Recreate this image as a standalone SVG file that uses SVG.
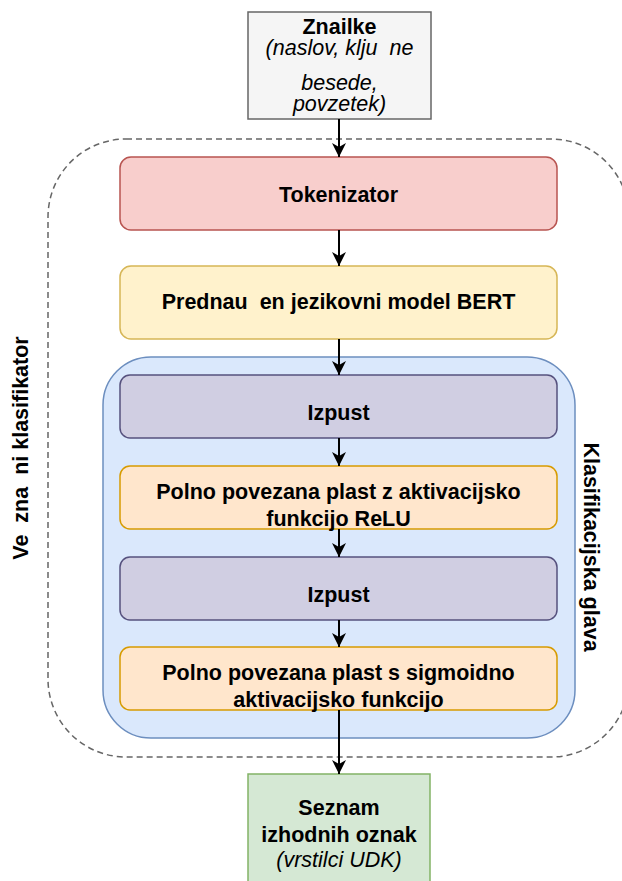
<svg xmlns="http://www.w3.org/2000/svg" width="622" height="881" viewBox="0 0 622 881">
  <defs>
    <marker id="arrow" markerUnits="userSpaceOnUse" markerWidth="16" markerHeight="16" viewBox="-1 -8 16 16" refX="14" refY="0" orient="auto">
      <path d="M0,-7 L14,0 L0,7 L4,0 Z" fill="#000000"/>
    </marker>
    <style>
      text { font-family: "Liberation Sans", Arial, Helvetica, sans-serif; font-size: 21.5px; fill: #000000; white-space: pre; }
      .b { font-weight: bold; }
      .i { font-style: italic; }
      .mid { text-anchor: middle; }
      .box { stroke-width: 1.5; }
      .gray { fill: #f5f5f5; stroke: #666666; }
      .red { fill: #f8cecc; stroke: #b85450; }
      .yellow { fill: #fff2cc; stroke: #d6b656; }
      .blue { fill: #dae8fc; stroke: #6c8ebf; }
      .purple { fill: #d0cee2; stroke: #56517e; }
      .orange { fill: #ffe6cc; stroke: #d79b00; }
      .green { fill: #d5e8d4; stroke: #82b366; }
      .edge { stroke: #000000; stroke-width: 2; fill: none; marker-end: url(#arrow); }
    </style>
  </defs>

  <!-- outer dashed container: multi-label classifier -->
  <g id="classifier">
    <rect x="48" y="139" width="581" height="618" rx="78" ry="78" fill="none" stroke="#666666" stroke-width="1.5" stroke-dasharray="6 4"/>
    <text class="b mid" transform="translate(28,448) rotate(-90)">Ve  zna  ni klasifikator</text>
  </g>

  <!-- classification head container -->
  <g id="head">
    <rect class="box blue" x="103" y="357" width="472" height="381" rx="48" ry="48"/>
    <text class="b mid" transform="translate(584,547) rotate(90)">Klasifikacijska glava</text>
  </g>

  <g id="input">
    <rect class="box gray" x="248" y="12" width="183" height="107"/>
    <text class="b mid" x="339.5" y="34">Znailke</text>
    <text class="i mid" x="339.5" y="55">(naslov, klju  ne</text>
    <text class="i mid" x="339.5" y="90">besede,</text>
    <text class="i mid" x="339.5" y="111">povzetek)</text>
  </g>

  <g id="tokenizer">
    <rect class="box red" x="120" y="157" width="437" height="73" rx="11" ry="11"/>
    <text class="b mid" x="338.5" y="202">Tokenizator</text>
  </g>

  <g id="bert">
    <rect class="box yellow" x="120" y="266" width="437" height="73" rx="11" ry="11"/>
    <text class="b mid" x="338.5" y="309">Prednau  en jezikovni model BERT</text>
  </g>

  <g id="dropout1">
    <rect class="box purple" x="120" y="375" width="437" height="63" rx="10" ry="10"/>
    <text class="b mid" x="338.5" y="420">Izpust</text>
  </g>

  <g id="dense-relu">
    <rect class="box orange" x="120" y="466" width="437" height="63" rx="10" ry="10"/>
    <text class="b mid" x="338.5" y="499">Polno povezana plast z aktivacijsko</text>
    <text class="b mid" x="338.5" y="526">funkcijo ReLU</text>
  </g>

  <g id="dropout2">
    <rect class="box purple" x="120" y="557" width="437" height="63" rx="10" ry="10"/>
    <text class="b mid" x="338.5" y="602">Izpust</text>
  </g>

  <g id="dense-sigmoid">
    <rect class="box orange" x="120" y="647" width="437" height="63" rx="10" ry="10"/>
    <text class="b mid" x="338.5" y="680">Polno povezana plast s sigmoidno</text>
    <text class="b mid" x="338.5" y="707">aktivacijsko funkcijo</text>
  </g>

  <g id="output">
    <rect class="box green" x="248" y="774" width="182" height="120"/>
    <text class="b mid" x="339" y="815">Seznam</text>
    <text class="b mid" x="339" y="842">izhodnih oznak</text>
    <text class="i mid" x="339" y="867">(vrstilci UDK)</text>
  </g>

  <!-- connectors -->
  <g id="edges">
    <line class="edge" x1="339" y1="119" x2="339" y2="157"/>
    <line class="edge" x1="339" y1="230" x2="339" y2="266"/>
    <line class="edge" x1="339" y1="339" x2="339" y2="375"/>
    <line class="edge" x1="339" y1="438" x2="339" y2="466"/>
    <line class="edge" x1="339" y1="529" x2="339" y2="557"/>
    <line class="edge" x1="339" y1="620" x2="339" y2="647"/>
    <line class="edge" x1="339" y1="710" x2="339" y2="774"/>
  </g>
</svg>
